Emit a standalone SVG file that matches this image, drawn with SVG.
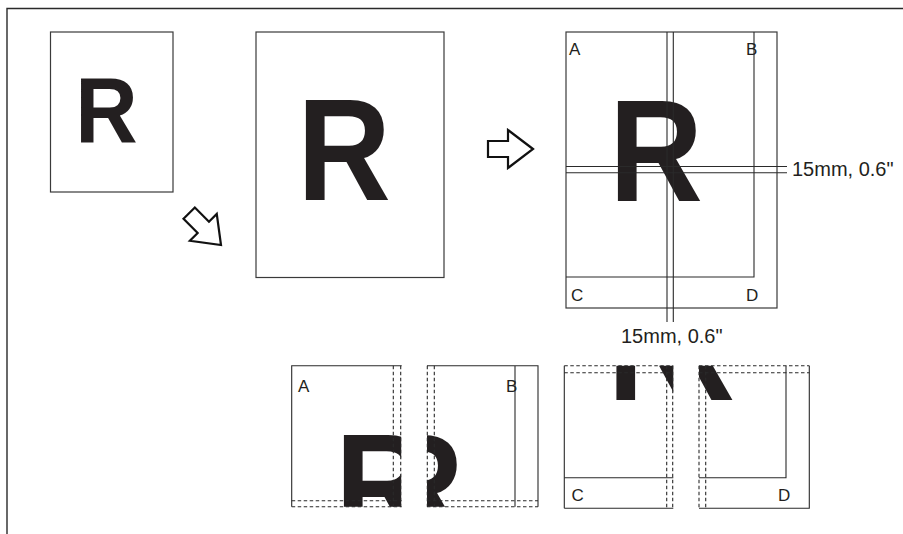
<svg xmlns="http://www.w3.org/2000/svg" xmlns:xlink="http://www.w3.org/1999/xlink" width="903" height="534" viewBox="0 0 903 534">
<style>
.frame{fill:none;stroke:#2a2a2a;stroke-width:1.4}
.page{fill:#fff;stroke:#3a3a3a;stroke-width:1.2}
.ln{fill:none;stroke:#2a2a2a;stroke-width:1.1}
.dot{fill:none;stroke:#2a2a2a;stroke-width:1.1;stroke-dasharray:3.5 2.5}
.R{font-family:"Liberation Sans",Arial,sans-serif;font-weight:bold;fill:#231f20}
.lbl{font-family:"Liberation Sans",Arial,sans-serif;font-size:17px;fill:#231f20}
.dim{font-family:"Liberation Sans",Arial,sans-serif;font-size:20px;fill:#231f20}
.arrow{fill:#fff;stroke:#111;stroke-width:2.2;stroke-linejoin:miter}
</style>
<defs>
<path id="arrowShape" d="M0,0 L-25,-19 L-25,-8 L-45,-8 L-45,8 L-25,8 L-25,19 Z"/>
<text id="Rsplit" class="R" font-size="144" text-anchor="middle" transform="translate(656,201) scale(0.9,1)">R</text>
<clipPath id="clipA"><rect x="291.7" y="365.7" width="109.5" height="141"/></clipPath>
<clipPath id="clipB"><rect x="427" y="365.7" width="111" height="141"/></clipPath>
<clipPath id="clipC"><rect x="564.3" y="365.7" width="109" height="142.6"/></clipPath>
<clipPath id="clipD"><rect x="699" y="365.7" width="110.3" height="142.6"/></clipPath>
</defs>
<rect width="903" height="534" fill="#fff"/>
<path class="frame" d="M7,534 V8.5 H903"/>

<g id="page-small">
<rect class="page" x="50.5" y="32" width="122.5" height="160"/>
<text class="R" font-size="93" text-anchor="middle" transform="translate(106.5,142) scale(0.93,1)">R</text>
</g>

<g id="page-big">
<rect class="page" x="256" y="32" width="188" height="245.5"/>
<text class="R" font-size="144" text-anchor="middle" transform="translate(344,200) scale(0.9,1)">R</text>
</g>

<g id="page-split">
<rect class="page" x="566" y="32" width="211" height="276"/>
<use xlink:href="#Rsplit"/>
<path class="ln" d="M566,277 H754 V32"/>
<path class="ln" d="M667,32 V322 M673.3,32 V322 M566,166.5 H787 M566,172.7 H787"/>
<text class="lbl" x="569" y="55">A</text>
<text class="lbl" x="746" y="55">B</text>
<text class="lbl" x="571" y="301">C</text>
<text class="lbl" x="746" y="301">D</text>
<text class="dim" x="792" y="176">15mm, 0.6&quot;</text>
<text class="dim" x="621" y="343">15mm, 0.6&quot;</text>
</g>

<g id="piece-a">
<g clip-path="url(#clipA)"><use xlink:href="#Rsplit" transform="translate(-274,334)"/></g>
<path class="ln" d="M291.7,506.7 V365.7 H401.7"/>
<path class="dot" d="M393.3,365.7 V506.7 M400.7,365.7 V506.7 M291.7,500.7 H401.7 M291.7,506.7 H401.7"/>
<text class="lbl" x="298" y="391.7">A</text>
</g>

<g id="piece-b">
<g clip-path="url(#clipB)"><use xlink:href="#Rsplit" transform="translate(-239,334)"/></g>
<path class="ln" d="M427,365.7 H538 V506.7 M515,365.7 V506.7"/>
<path class="dot" d="M427.3,365.7 V506.7 M434.3,365.7 V506.7 M427,500.7 H538 M427,506.7 H538"/>
<text class="lbl" x="506" y="391.7">B</text>
</g>

<g id="piece-c">
<g clip-path="url(#clipC)"><use xlink:href="#Rsplit" transform="translate(-1.5,199)"/></g>
<path class="ln" d="M564.3,477.7 H673.3 M564.3,508.3 H673.3"/>
<path class="ln" stroke-width="1.8" d="M564.3,365.7 V508.3"/>
<path class="dot" d="M666.7,365.7 V508.3 M672.7,365.7 V508.3 M564.3,365.7 H673.3 M564.3,372.7 H673.3"/>
<text class="lbl" x="571.5" y="501">C</text>
</g>

<g id="piece-d">
<g clip-path="url(#clipD)"><use xlink:href="#Rsplit" transform="translate(32.3,199)"/></g>
<path class="ln" d="M699,508.3 H809.3 V365.7 M699,477.7 H786 V365.7"/>
<path class="dot" d="M699,365.7 V508.3 M705.7,365.7 V508.3 M699,365.7 H809.3 M699,372.7 H809.3"/>
<text class="lbl" x="778" y="501">D</text>
</g>

<g id="connectors">
<use xlink:href="#arrowShape" class="arrow" transform="translate(221,245) rotate(45)"/>
<use xlink:href="#arrowShape" class="arrow" transform="translate(533,149)"/>
</g>
</svg>
